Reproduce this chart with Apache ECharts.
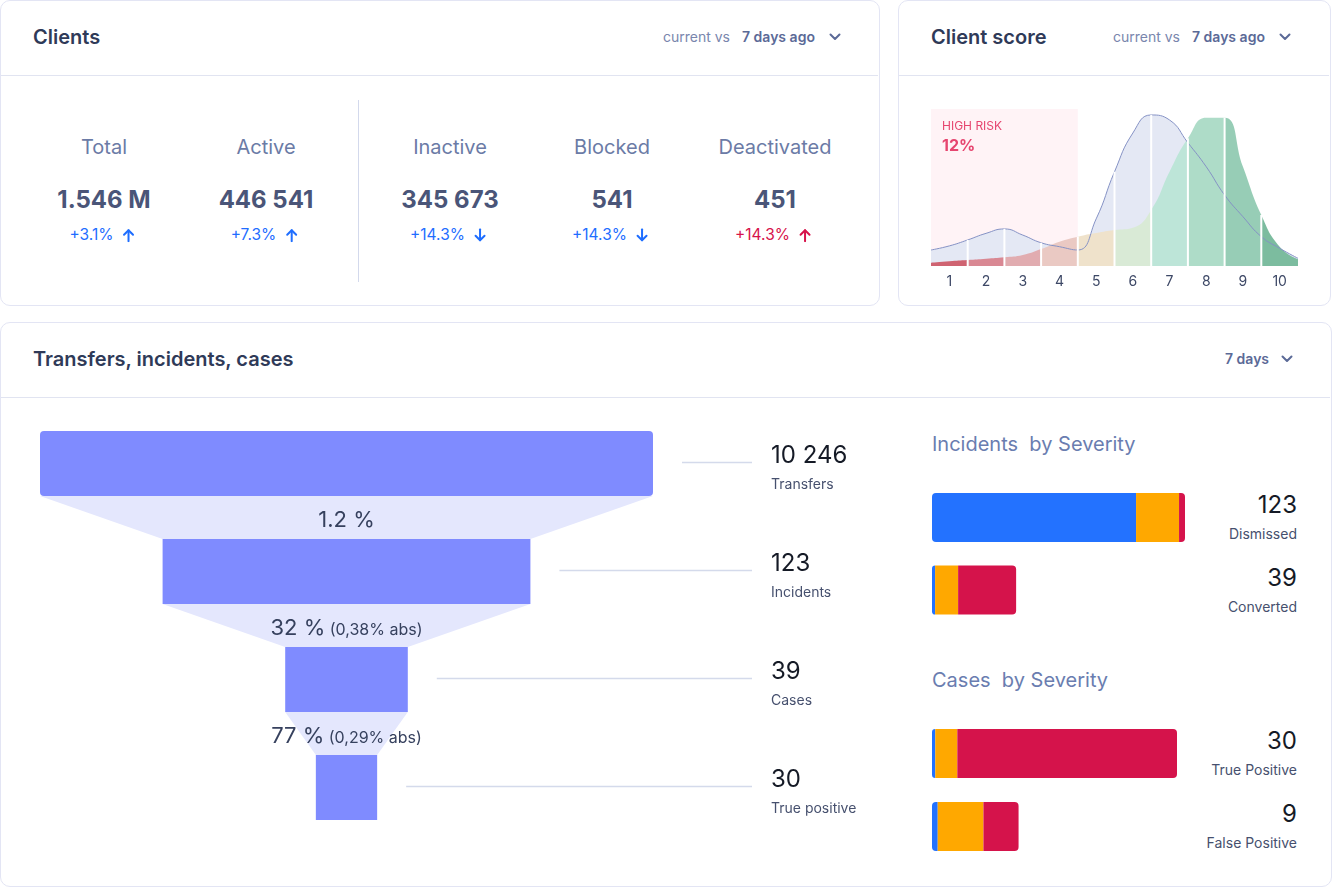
<!DOCTYPE html>
<html>
<head>
<meta charset="utf-8">
<title>Dashboard</title>
<script src="https://cdn.jsdelivr.net/npm/echarts@6.0.0/dist/echarts.min.js"></script>
<style>
html,body{margin:0;padding:0;width:1332px;height:889px;background:#fff;font-family:Inter,'Noto Sans',sans-serif;overflow:hidden;}
.card{position:absolute;box-sizing:border-box;border:1px solid #e3e5f4;border-radius:10px;background:#fff;}
.hline{position:absolute;height:1px;background:#e1e4f1;}
.vline{position:absolute;width:1px;background:#d3d9ec;}
.t{position:absolute;white-space:pre;line-height:1;}
svg{display:block;}
.t svg{display:inline-block;}
#chart{position:absolute;left:0;top:0;width:1332px;height:889px;}
</style>
</head>
<body>
<div class="card" style="left:0;top:0;width:880px;height:306px"></div>
<div class="card" style="left:898px;top:0;width:433px;height:306px"></div>
<div class="card" style="left:0;top:322px;width:1332px;height:565px"></div>
<div class="hline" style="left:1px;top:75px;width:877px"></div>
<div class="hline" style="left:899px;top:75px;width:430px"></div>
<div class="hline" style="left:1px;top:397px;width:1329px"></div>
<div class="vline" style="left:358px;top:100px;height:182px"></div>
<div id="layer"></div>
<div id="chart"></div>
<script>
// ---------- data ----------
const kpiLabels = ['Total', 'Active', 'Inactive', 'Blocked', 'Deactivated'];
const kpiValues = ['1.546 M', '446 541', '345 673', '541', '451'];
const kpiChanges = ['+3.1%', '+7.3%', '+14.3%', '+14.3%', '+14.3%'];
const kpiDirections = ['up', 'up', 'down', 'down', 'up'];
const kpiAlert = [false, false, false, false, true];

const scoreBins = ['1', '2', '3', '4', '5', '6', '7', '8', '9', '10'];
const scoreX = [0, 0.5, 1, 1.5, 2, 2.5, 3, 3.5, 4, 4.5, 5, 5.5, 6, 6.5, 7, 7.5, 8, 8.5, 9, 9.5, 10];
const scorePrevious = [10.2, 12.8, 16.6, 20.8, 23.6, 19.7, 14.8, 12.3, 10.2, 30, 60, 84.7, 96.2, 93, 78.5, 63.2, 45.2, 31.4, 18.7, 11.3, 4.9];
const scoreCurrent = [2.1, 3.0, 3.8, 4.6, 5.5, 7.0, 10.8, 15.5, 18.7, 21, 22.9, 24.4, 35.7, 60, 81.3, 94.5, 94.5, 63.2, 32.5, 12.3, 4.3];
const scoreColors = ['#cf6371', '#d98893', '#e1acb0', '#eac9c3', '#efe2cb', '#d9ead6', '#bde5d8', '#aedcc8', '#97cdb6', '#7cbc9f'];
const highRiskBins = [0, 4];
const highRiskLabel = 'HIGH RISK';
const highRiskShare = '12%';

const funnelStages = ['Transfers', 'Incidents', 'Cases', 'True positive'];
const funnelValues = ['10 246', '123', '39', '30'];
const funnelWidths = [100, 60, 20, 10];
const funnelConversion = ['1.2 %', '32 %', '77 %'];
const funnelAbsolute = ['', '0,38% abs', '0,29% abs'];

const incidentRows = ['Dismissed', 'Converted'];
const incidentTotals = ['123', '39'];
const incidentLow = [99.2, 1.5];
const incidentMedium = [20.9, 11.2];
const incidentHigh = [2.9, 28.2];

const caseRows = ['True Positive', 'False Positive'];
const caseTotals = ['30', '9'];
const caseLow = [0.4, 0.7];
const caseMedium = [2.7, 5.6];
const caseHigh = [26.9, 4.3];

// ---------- html text ----------
const layer = document.getElementById('layer');
function T(x, y, text, css, anchor) {
  const d = document.createElement('div');
  d.className = 't';
  d.textContent = text;
  Object.assign(d.style, css || {});
  d.style.left = x + 'px';
  d.style.top = y + 'px';
  const tx = anchor === 'center' ? '-50%' : anchor === 'right' ? '-100%' : '0';
  d.style.transform = 'translate(' + tx + ',-50%)';
  layer.appendChild(d);
  return d;
}
function chevron(x, y, color) {
  const d = document.createElement('div');
  d.style.cssText = 'position:absolute;left:' + (x - 6) + 'px;top:' + (y - 4) + 'px;width:12px;height:8px;line-height:0;';
  d.innerHTML = '<svg width="12" height="8"><polyline points="1.5,1.5 6,6 10.5,1.5" fill="none" stroke="' + color + '" stroke-width="2" stroke-linecap="round" stroke-linejoin="round"/></svg>';
  layer.appendChild(d);
}
function arrowSvg(dir, color) {
  const pts = dir === 'up' ? ['6,13 6,2', '1.5,6.5 6,2 10.5,6.5'] : ['6,1 6,12', '1.5,7.5 6,12 10.5,7.5'];
  return '<svg width="12" height="14" style="margin-left:9px;vertical-align:-2px"><polyline points="' + pts[0] + '" fill="none" stroke="' + color + '" stroke-width="2" stroke-linecap="round"/><polyline points="' + pts[1] + '" fill="none" stroke="' + color + '" stroke-width="2" stroke-linecap="round" stroke-linejoin="round"/></svg>';
}

const titleCss = {fontSize: '20px', fontWeight: '600', color: '#2f3a58'};
const mutedCss = {fontSize: '14px', color: '#7986ad'};
const boldCss = {fontSize: '14px', fontWeight: '600', color: '#5b6a97'};

T(33, 37, 'Clients', titleCss);
T(663, 37, 'current vs', mutedCss);
T(742, 37, '7 days ago', boldCss);
chevron(835, 37, '#5b6a97');

T(931, 37, 'Client score', titleCss);
T(1113, 37, 'current vs', mutedCss);
T(1192, 37, '7 days ago', boldCss);
chevron(1285, 37, '#5b6a97');

T(33, 359, 'Transfers, incidents, cases', titleCss);
T(1225, 359, '7 days', boldCss);
chevron(1287, 359, '#5b6a97');

const kpiX = [104, 266, 450, 612, 775];
kpiLabels.forEach((lab, i) => {
  T(kpiX[i], 147, lab, {fontSize: '20px', color: '#6b7ba6'}, 'center');
  T(kpiX[i], 200, kpiValues[i], {fontSize: '24px', fontWeight: '700', color: '#4a5578'}, 'center');
  const col = kpiAlert[i] ? '#d7134b' : '#1f6eff';
  const d = T(kpiX[i] - 2, 235, '', {fontSize: '15.5px', color: col}, 'center');
  d.innerHTML = '<span>' + kpiChanges[i] + '</span>' + arrowSvg(kpiDirections[i], col);
});

const sevTitleCss = {fontSize: '20px', color: '#6a7db0'};
T(932, 444, 'Incidents  by Severity', sevTitleCss);
T(932, 680, 'Cases  by Severity', sevTitleCss);
const numCss = {fontSize: '24px', color: '#151a26'};
const nameCss = {fontSize: '14px', color: '#46506e'};
const incCenters = [517.5, 590];
incidentRows.forEach((r, i) => {
  T(1297, incCenters[i] - 12.5, incidentTotals[i], numCss, 'right');
  T(1297, incCenters[i] + 16.5, r, nameCss, 'right');
});
const caseCenters = [753.5, 826.5];
caseRows.forEach((r, i) => {
  T(1297, caseCenters[i] - 12.5, caseTotals[i], numCss, 'right');
  T(1297, caseCenters[i] + 16.5, r, nameCss, 'right');
});

// ---------- chart ----------
const chart = echarts.init(document.getElementById('chart'), null, {renderer: 'canvas'});
const pairs = (ys) => scoreX.map((x, i) => [x, ys[i]]);
const boundaries = [1, 2, 3, 4, 5, 6, 7, 8, 9].map(b => {
  const k = scoreX.indexOf(b);
  return [b, Math.max(scorePrevious[k], scoreCurrent[k])];
});

const FONT = 'Inter';
function stackBar(name, data, color, xi, yi, stack, radius) {
  return {
    type: 'bar', name, data, stack, xAxisIndex: xi, yAxisIndex: yi, barWidth: 49,
    itemStyle: {color, borderRadius: radius}, silent: true
  };
}

const option = {
  animation: false,
  textStyle: {fontFamily: FONT},
  grid: [
    {left: 931, top: 109, width: 367, height: 157},
    {left: 40, top: 409.5, width: 613, height: 432},
    {left: 932, top: 481.25, width: 253, height: 145},
    {left: 932, top: 717, width: 245, height: 146}
  ],
  xAxis: [
    {gridIndex: 0, type: 'category', data: scoreBins, boundaryGap: true,
     axisLine: {show: false}, axisTick: {show: false}, splitLine: {show: false},
     axisLabel: {color: '#3d4866', fontSize: 14, margin: 9, fontFamily: FONT}},
    {gridIndex: 0, type: 'value', min: 0, max: 10, show: false},
    {gridIndex: 1, type: 'value', min: 0, max: 100, show: false},
    {gridIndex: 2, type: 'value', min: 0, max: 123, show: false},
    {gridIndex: 3, type: 'value', min: 0, max: 30, show: false}
  ],
  yAxis: [
    {gridIndex: 0, type: 'value', min: 0, max: 100, show: false},
    {gridIndex: 1, type: 'category', data: funnelStages, inverse: true, show: false},
    {gridIndex: 2, type: 'category', data: incidentRows, inverse: true, show: false},
    {gridIndex: 3, type: 'category', data: caseRows, inverse: true, show: false}
  ],
  visualMap: [{
    type: 'piecewise', show: false, dimension: 0, seriesIndex: 1,
    pieces: scoreColors.map((c, i) => i === scoreColors.length - 1 ? {gte: i, lte: i + 1, color: c} : {gte: i, lt: i + 1, color: c})
  }],
  series: [
    {
      type: 'line', xAxisIndex: 1, yAxisIndex: 0, data: pairs(scorePrevious), smooth: 0.5,
      symbol: 'none', silent: true, z: 2,
      lineStyle: {width: 0}, areaStyle: {color: '#e4e8f4', opacity: 1},
      markArea: {
        silent: true,
        itemStyle: {color: '#fff3f6'},
        label: {
          show: true, position: 'insideTopLeft', distance: 0, padding: [7, 0, 0, 11],
          formatter: '{a|' + highRiskLabel + '}\n{b|' + highRiskShare + '}',
          rich: {
            a: {fontSize: 12, color: '#e6456f', lineHeight: 20, fontFamily: FONT},
            b: {fontSize: 16, fontWeight: 'bold', color: '#e6456f', lineHeight: 20, fontFamily: FONT}
          }
        },
        data: [[{xAxis: highRiskBins[0], yAxis: 0}, {xAxis: highRiskBins[1], yAxis: 100}]]
      }
    },
    {
      type: 'line', xAxisIndex: 1, yAxisIndex: 0, data: pairs(scoreCurrent), smooth: 0.5,
      symbol: 'none', silent: true, z: 3,
      lineStyle: {width: 0}, areaStyle: {opacity: 1}
    },
    {
      type: 'line', xAxisIndex: 1, yAxisIndex: 0, data: pairs(scorePrevious), smooth: 0.5,
      symbol: 'none', silent: true, z: 4,
      lineStyle: {color: '#8592c5', width: 1}
    },
    {
      type: 'custom', xAxisIndex: 1, yAxisIndex: 0, data: boundaries, silent: true, z: 5,
      renderItem: (params, api) => {
        const p0 = api.coord([api.value(0), 0]);
        const p1 = api.coord([api.value(0), api.value(1)]);
        return {type: 'line', shape: {x1: p0[0], y1: p0[1], x2: p1[0], y2: p1[1]},
                style: {stroke: '#ffffff', lineWidth: 2}};
      }
    },
    {
      type: 'custom', xAxisIndex: 2, yAxisIndex: 1, silent: true,
      data: funnelWidths.map((w, i) => [w, i]),
      renderItem: (params, api) => {
        const i = params.dataIndex;
        const w = api.value(0);
        const c = api.coord([50, i]);
        const band = api.size([0, 1])[1];
        const bh = band * 0.602;
        const x0 = api.coord([50 - w / 2, i])[0];
        const x1 = api.coord([50 + w / 2, i])[0];
        const top = c[1] - bh / 2, bottom = c[1] + bh / 2;
        const children = [];
        if (i < funnelWidths.length - 1) {
          const nw = funnelWidths[i + 1];
          const nx0 = api.coord([50 - nw / 2, i + 1])[0];
          const nx1 = api.coord([50 + nw / 2, i + 1])[0];
          const ntop = c[1] + band - bh / 2;
          children.push({type: 'polygon', shape: {points: [[x0, bottom], [x1, bottom], [nx1, ntop], [nx0, ntop]]},
                         style: {fill: '#e4e7fd'}});
          const txt = funnelAbsolute[i] ? '{a|' + funnelConversion[i] + '}{b| (' + funnelAbsolute[i] + ')}' : '{a|' + funnelConversion[i] + '}';
          children.push({type: 'text', z2: 10, style: {
            text: txt, x: c[0], y: c[1] + band / 2 + 3, align: 'center', verticalAlign: 'middle',
            rich: {
              a: {fontSize: 22, fill: '#36415e', color: '#36415e', fontFamily: FONT},
              b: {fontSize: 16, fill: '#36415e', color: '#36415e', fontFamily: FONT, padding: [3, 0, 0, 0]}
            }
          }});
        }
        children.push({type: 'rect', shape: {x: x0, y: top, width: x1 - x0, height: bh, r: i === 0 ? 4 : 0},
                       style: {fill: '#7f8bff'}});
        children.push({type: 'line', shape: {x1: x1 + 29, y1: c[1] - 1, x2: 752, y2: c[1] - 1},
                       style: {stroke: '#d4daeb', lineWidth: 1.5}});
        children.push({type: 'text', style: {text: funnelValues[i], x: 771, y: c[1] - 8, fontSize: 24,
                       fill: '#151a26', verticalAlign: 'middle', fontFamily: FONT}});
        children.push({type: 'text', style: {text: funnelStages[i], x: 771, y: c[1] + 21.5, fontSize: 14,
                       fill: '#46506e', verticalAlign: 'middle', fontFamily: FONT}});
        return {type: 'group', children};
      }
    },
    stackBar('Low', incidentLow, '#2372ff', 3, 2, 'inc', [4, 0, 0, 4]),
    stackBar('Medium', incidentMedium, '#ffa800', 3, 2, 'inc', 0),
    stackBar('High', incidentHigh, '#d5134b', 3, 2, 'inc', [0, 4, 4, 0]),
    stackBar('Low', caseLow, '#2372ff', 4, 3, 'case', [4, 0, 0, 4]),
    stackBar('Medium', caseMedium, '#ffa800', 4, 3, 'case', 0),
    stackBar('High', caseHigh, '#d5134b', 4, 3, 'case', [0, 4, 4, 0])
  ]
};
chart.setOption(option);
</script>
</body>
</html>
